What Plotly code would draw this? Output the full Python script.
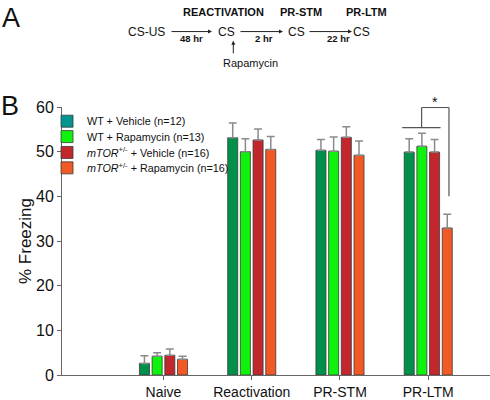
import plotly.graph_objects as go

categories = ["Naive", "Reactivation", "PR-STM", "PR-LTM"]
series_names = [
    "WT + Vehicle (n=12)",
    "WT + Rapamycin (n=13)",
    "<i>mTOR</i><sup>+/-</sup> + Vehicle (n=16)",
    "<i>mTOR</i><sup>+/-</sup> + Rapamycin (n=16)",
]
wt_vehicle = [2.6, 53.1, 50.3, 49.9]
wt_vehicle_err = [1.7, 3.3, 2.4, 3.0]
wt_rapa = [4.2, 50.0, 50.1, 51.2]
wt_rapa_err = [0.8, 2.9, 3.2, 2.9]
mtor_vehicle = [4.4, 52.6, 53.2, 49.9]
mtor_vehicle_err = [1.4, 2.5, 2.4, 2.8]
mtor_rapa = [3.5, 50.5, 49.2, 32.9]
mtor_rapa_err = [0.7, 2.9, 3.2, 3.1]
y_ticks = [0, 10, 20, 30, 40, 50, 60]

bar_colors = ["#00904a", "#0ef20e", "#c1272d", "#f15a24"]
legend_colors = ["#00958f", "#0ef20e", "#c1272d", "#f15a24"]
values = [wt_vehicle, wt_rapa, mtor_vehicle, mtor_rapa]
errors = [wt_vehicle_err, wt_rapa_err, mtor_vehicle_err, mtor_rapa_err]
legend_ids = ["legend", "legend2", "legend3", "legend4"]

fig = go.Figure()
for name, v, e, c in zip(series_names, values, errors, bar_colors):
    fig.add_trace(go.Bar(
        x=categories, y=v, name=name, showlegend=False,
        marker=dict(color=c, line=dict(color="#3a3a3a", width=0.8)),
        error_y=dict(type="data", array=e, symmetric=False, arrayminus=[0]*len(e),
                     color="#8a8a8a", thickness=1.5, width=4),
    ))
# legend-only entries (legend swatch colours differ slightly from bars in the reference)
for name, c, lg in zip(series_names, legend_colors, legend_ids):
    fig.add_trace(go.Bar(
        x=[None], y=[None], name=name, showlegend=True, xaxis="x2", yaxis="y2", legend=lg,
        marker=dict(color=c, line=dict(color="#3a3a3a", width=0.8)),
    ))

L, T, B, W, H = 62, 106.7, 23.3, 490, 400
PW = W - L
PH = H - T - B

def px(x):
    return (x - L) / PW

def py(y):
    return (H - B - y) / PH

ann = []
def txt(x, y, s, size=11, bold=False):
    ann.append(dict(x=px(x), y=py(y), xref="paper", yref="paper", text=("<b>%s</b>" % s) if bold else s,
                    showarrow=False, font=dict(size=size, color="#111"), xanchor="center", yanchor="middle"))

def arrow(x0, y0, x1, y1):
    ann.append(dict(x=px(x1), y=py(y1), xref="paper", yref="paper", ax=x0 - x1, ay=y0 - y1,
                    axref="pixel", ayref="pixel", text="", showarrow=True, arrowhead=2,
                    arrowsize=0.8, arrowwidth=1, arrowcolor="#222", standoff=0))

txt(11, 17, "A", size=27)
txt(10, 106, "B", size=27)
txt(223, 11, "REACTIVATION", size=11, bold=True)
txt(300.5, 11, "PR-STM", size=11, bold=True)
txt(366, 11, "PR-LTM", size=11, bold=True)
txt(146, 31.5, "CS-US", size=12)
txt(226, 31.5, "CS", size=12)
txt(296, 31.5, "CS", size=12)
txt(361, 31.5, "CS", size=12)
txt(191, 38, "48 hr", size=9.5, bold=True)
txt(264, 38, "2 hr", size=9.5, bold=True)
txt(338, 38, "22 hr", size=9.5, bold=True)
txt(250, 62, "Rapamycin", size=11)
txt(435, 102, "*", size=14)
arrow(170, 30.7, 212, 30.7)
arrow(239, 30.7, 283, 30.7)
arrow(308, 30.7, 352, 30.7)
arrow(233.3, 54, 233.3, 40)

# significance bracket
shape_line = dict(color="#555", width=1.2)
shapes = [
    dict(type="line", xref="x", yref="y", x0=2.705, x1=3.14, y0=55.4, y1=55.4, line=shape_line),
    dict(type="line", xref="x", yref="y", x0=2.925, x1=2.925, y0=55.4, y1=59.9, line=shape_line),
    dict(type="line", xref="x", yref="y", x0=2.925, x1=3.235, y0=59.9, y1=59.9, line=shape_line),
    dict(type="line", xref="x", yref="y", x0=3.235, x1=3.235, y0=59.9, y1=40.0, line=shape_line),
]

legend_y_px = [121, 136.5, 152.5, 168]
legend_cfg = {}
for lg, ly in zip(legend_ids, legend_y_px):
    legend_cfg[lg] = dict(x=-0.035, y=py(ly), xanchor="left", yanchor="middle",
                          bgcolor="rgba(0,0,0,0)", font=dict(size=10.8), itemwidth=30)

fig.update_layout(
    width=W, height=H,
    margin=dict(l=L, r=0, t=T, b=B, pad=0),
    paper_bgcolor="white", plot_bgcolor="white",
    font=dict(family="Liberation Sans, Arial, sans-serif", color="#111"),
    barmode="group", bargap=0.425, bargroupgap=0.21,
    showlegend=True,
    annotations=ann, shapes=shapes,
    xaxis=dict(type="category", range=[-1.15, 3.70], showline=True, linecolor="#666", linewidth=1,
               ticks="outside", ticklen=4, tickcolor="#666", tickfont=dict(size=14),
               showgrid=False, zeroline=False, fixedrange=True),
    yaxis=dict(range=[0, 60], tickvals=y_ticks, showline=True, linecolor="#666", linewidth=1,
               ticks="outside", ticklen=4, tickcolor="#666", tickfont=dict(size=16),
               showgrid=False, zeroline=False,
               title=dict(text="% Freezing", font=dict(size=17), standoff=0)),
    xaxis2=dict(overlaying="x", visible=False, range=[0, 1]),
    yaxis2=dict(overlaying="y", visible=False, range=[0, 1]),
    **legend_cfg,
)

fig.write_html("out.html", config={"displayModeBar": False},
               post_script="document.body.style.margin='0';document.body.style.overflow='hidden';")
